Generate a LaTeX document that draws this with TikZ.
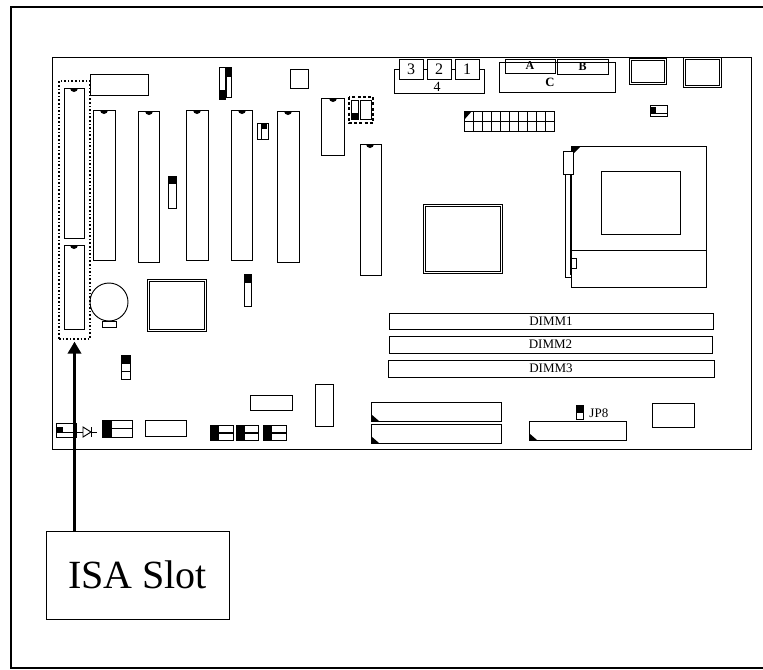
\documentclass[tikz,border=0pt]{standalone}
\usepackage{fontspec}
\setmainfont{Liberation Serif}
\usetikzlibrary{positioning, calc, arrows.meta}
\tikzset{
    part/.style = {draw, rectangle, inner sep = 0pt, outer sep = 0pt},
    wire/.style = {line width = 0.7pt},
    capped/.style = {fill = black},
    dots/.style = {line width = 1.2pt, dash pattern = on 1.2pt off 1.5pt},
    bigdots/.style = {line width = 1.9pt, dash pattern = on 2.2pt off 1.7pt},
}
\begin{document}
\begin{tikzpicture}[x = 0.75pt, y = -0.75pt, wire]
        \useasboundingbox (0,0) rectangle (763,669);
        % frame and board
        \draw [line width = 1.4pt] (763,7) -- (11,7) -- (11,668) -- (763,668);
        \draw (52,57) rectangle (751,449);
        % ISA slots
        \node (isaslots) [part, dots, minimum width = 23.25pt, minimum height = 193.5pt] at (74.5,210) {};
        \draw [fill = white] (64,88) rectangle (84,238);
        \draw [fill = white] (64,245) rectangle (84,329);
        \fill (70,88) arc (180:0:4) -- cycle;
        \fill (70,245) arc (180:0:4) -- cycle;
        % PCI slots
        \draw (90,74) rectangle (148,95);
        \draw (93,110) rectangle (115,260);
        \draw (138,111) rectangle (159,262);
        \draw (186,110) rectangle (208,260);
        \draw (231,110) rectangle (252,260);
        \draw (277,111) rectangle (299,262);
        \fill (100,110) arc (180:0:4) -- cycle;
        \fill (145,111) arc (180:0:4) -- cycle;
        \fill (193,110) arc (180:0:4) -- cycle;
        \fill (238,110) arc (180:0:4) -- cycle;
        \fill (284,111) arc (180:0:4) -- cycle;
        % jumpers at the top
        \draw (168,176) rectangle (176,208);
        \draw [capped] (168,176) rectangle (176,183);
        \draw (219,67) rectangle (225,99);
        \draw [capped] (219,90) rectangle (225,99);
        \draw (226,67) rectangle (231,97);
        \draw [capped] (226,67) rectangle (231,76);
        \draw (290,69) rectangle (308,88);
        \draw (257,123) rectangle (268,139);
        \draw (261,123) -- (261,139);
        \draw [capped] (262,123) rectangle (266,128);
        \draw (321,98) rectangle (344,155);
        \fill (329,98) arc (180:0:4) -- cycle;
        \draw [bigdots] (349,97) rectangle (373,123);
        \draw (351,100) rectangle (358,119);
        \draw [capped] (351,113) rectangle (358,119);
        \draw (360,100) rectangle (371,119);
        \draw (360,144) rectangle (381,275);
        \fill (366,144) arc (180:0:4) -- cycle;
        % battery and chips
        \draw (109,302) circle (19);
        \draw (102,321) rectangle (116,327);
        \draw (147,279) rectangle (206,331);
        \draw (149,281) rectangle (204,329);
        \draw (244,274) rectangle (251,306);
        \draw [capped] (244,274) rectangle (251,282);
        \draw (121,355) rectangle (130,379);
        \draw (121,371) -- (130,371);
        \draw [capped] (121,355) rectangle (130,363);
        % bottom row
        \draw (250,395) rectangle (292,410);
        \draw (315,384) rectangle (333,426);
        \draw (56,423) rectangle (76,437);
        \draw (56,432) -- (76,432);
        \draw [capped] (56,427) rectangle (62,432);
        \draw (76,432) -- (83,432);
        \draw (83,427) -- (91,432) -- (83,437) -- cycle;
        \draw (91,432) -- (97,432);
        \draw (91,427) -- (91,437);
        \draw (102,420) rectangle (132,437);
        \draw (102,428) -- (132,428);
        \draw [capped] (102,420) rectangle (111,437);
        \draw (145,420) rectangle (186,436);
        \draw (210,425) rectangle (233,432);
        \draw [capped] (210,425) rectangle (218,432);
        \draw (210,433) rectangle (233,440);
        \draw [capped] (210,433) rectangle (218,440);
        \draw (236,425) rectangle (258,432);
        \draw [capped] (236,425) rectangle (244,432);
        \draw (236,433) rectangle (258,440);
        \draw [capped] (236,433) rectangle (244,440);
        \draw (263,425) rectangle (286,432);
        \draw [capped] (263,425) rectangle (271,432);
        \draw (263,433) rectangle (286,440);
        \draw [capped] (263,433) rectangle (271,440);
        % IDE connectors
        \draw (371,402) rectangle (501,421);
        \fill (371,414) -- (379,421) -- (371,421) -- cycle;
        \draw (371,424) rectangle (501,443);
        \fill (371,436) -- (379,443) -- (371,443) -- cycle;
        \draw (529,421) rectangle (626,440);
        \fill (529,433) -- (537,440) -- (529,440) -- cycle;
        \draw (576,405) rectangle (583,419);
        \draw [capped] (576,405) rectangle (583,412);
        \node (jpeight) [right = 4.5pt of {(583,413)}, inner sep = 0pt, font = \fontsize{9.75}{10}\selectfont] {JP8};
        \draw (652,403) rectangle (694,427);
        % DIMM sockets
        \node (dimmone) [part, minimum width = 243pt, minimum height = 12pt, font = \fontsize{9.75}{10}\selectfont] at (551,321) {DIMM1};
        \node (dimmtwo) [part, minimum width = 242.25pt, minimum height = 12.75pt, font = \fontsize{9.75}{10}\selectfont] at (550.5,344.5) {DIMM2};
        \node (dimmthree) [part, minimum width = 244.5pt, minimum height = 12.75pt, font = \fontsize{9.75}{10}\selectfont] at (551,368.5) {DIMM3};
        % back panel
        \node (comthree) [part, minimum width = 18pt, minimum height = 15pt, font = \fontsize{12}{12}\selectfont] at (411,69) {3};
        \node (comtwo) [part, minimum width = 18pt, minimum height = 15pt, font = \fontsize{12}{12}\selectfont] at (439,69) {2};
        \node (comone) [part, minimum width = 18pt, minimum height = 15pt, font = \fontsize{12}{12}\selectfont] at (467,69) {1};
        \draw (comthree.east) -- (comtwo.west);
        \draw (comtwo.east) -- (comone.west);
        \draw (comthree.west) -- ++ (-5,0) |- ($(comone.east) + (5,24)$) -- ++ (0,-24) -- (comone.east);
        \node (comfour) [font = \fontsize{10.5}{11}\selectfont, inner sep = 0pt] at (437,87) {4};
        \node (portc) [part, minimum width = 87pt, minimum height = 22.5pt] at (557,77) {};
        \node (porta) [part, minimum width = 37.5pt, minimum height = 10.5pt, font = \bfseries\fontsize{9}{9}\selectfont] at (530,66) {A};
        \node (portb) [part, minimum width = 38.25pt, minimum height = 11.25pt, font = \bfseries\fontsize{9}{9}\selectfont] at (582.5,66.5) {B};
        \node (portclabel) [font = \bfseries\fontsize{9.5}{10}\selectfont, inner sep = 0pt] at (550,82) {C};
        \draw (629,58) rectangle (666,84);
        \draw (631,60) rectangle (664,82);
        \draw (683,57) rectangle (721,87);
        \draw (685,59) rectangle (719,85);
        \draw (650,105) rectangle (667,116);
        \draw (650,113) -- (667,113);
        \draw [capped] (651,107) rectangle (655,112);
        % power connector
        \draw (464,111) rectangle (554,131);
        \draw (464,121) -- (554,121);
        \foreach \i in {473,482,...,545} {
                \draw (\i,111) -- (\i,131);
        }
        \fill (464,111) -- (472,111) -- (464,120) -- cycle;
        % north bridge
        \draw (423,204) rectangle (502,273);
        \draw (425,206) rectangle (500,271);
        % CPU socket
        \draw (571,146) rectangle (706,287);
        \draw (601,171) rectangle (680,234);
        \draw (571,250) -- (706,250);
        \fill (571,146) -- (581,146) -- (571,156) -- cycle;
        \draw (565,174) rectangle (571,277);
        \draw [line width = 1.6pt] (571,174) -- (571,275);
        \draw [fill = white] (563,151) rectangle (573,174);
        \draw [fill = white] (571,258) rectangle (576,268);
        % ISA label
        \node (isa) [part, minimum width = 137.25pt, minimum height = 66pt, font = \fontsize{30}{32}\selectfont] at (137.5,575) {ISA Slot};
        \draw [line width = 2pt, -{Triangle[length = 9pt, width = 10pt]}, shorten > = 2pt] (isaslots.south |- isa.north) -- (isaslots.south);
\end{tikzpicture}
\end{document}
